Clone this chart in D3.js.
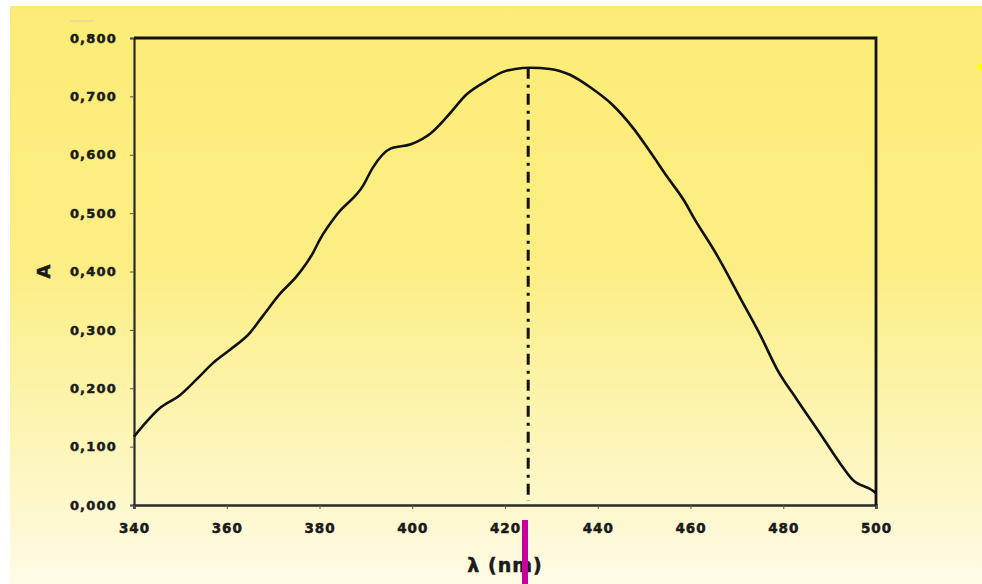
<!DOCTYPE html>
<html><head><meta charset="utf-8">
<script src="https://cdn.jsdelivr.net/npm/d3@7"></script>
<style>
html,body{margin:0;padding:0;background:#fff;}
svg{display:block;}
</style></head>
<body>
<script>
// ---- data ----
const wavelength = [340,345.6,349.9,353.6,357.0,360.7,365.0,367.8,371.5,375.1,378.6,380.1,383.8,389.4,391.5,395.4,399.7,404.0,407.7,411.8,416.1,419.6,422.2,425.4,429.7,434.0,438.3,443.1,447.6,451.3,454.9,458.8,460.5,465.7,470.7,475.0,478.7,483.0,487.9,492.2,495.0,499.4,500];
const absorbance = [0.117,0.166,0.188,0.216,0.243,0.266,0.295,0.324,0.362,0.392,0.432,0.455,0.498,0.547,0.578,0.611,0.618,0.637,0.667,0.704,0.727,0.742,0.747,0.749,0.747,0.737,0.716,0.686,0.646,0.605,0.563,0.519,0.495,0.428,0.355,0.292,0.232,0.180,0.123,0.072,0.043,0.024,0.020];
const xTicks = [340,360,380,400,420,440,460,480,500];
const yTicks = [0,0.1,0.2,0.3,0.4,0.5,0.6,0.7,0.8];
const lambdaMax = 425;
const peakA = 0.749;
const xTitle = "λ (nm)";
const yTitle = "A";

// ---- layout ----
const W = 982, H = 584;
const m = {left:134, right:W-876, top:38, bottom:H-505};

const svg = d3.select("body").append("svg").attr("width",W).attr("height",H);
const defs = svg.append("defs");
const grad = defs.append("linearGradient").attr("id","bg").attr("x1",0).attr("y1",0).attr("x2",0).attr("y2",1);
grad.append("stop").attr("offset","0%").attr("stop-color","#fcec77");
grad.append("stop").attr("offset","45%").attr("stop-color","#fcee84");
grad.append("stop").attr("offset","80%").attr("stop-color","#fdf6c0");
grad.append("stop").attr("offset","100%").attr("stop-color","#fffbe6");

svg.append("rect").attr("x",10).attr("y",6).attr("width",W-10).attr("height",H-6).attr("fill","url(#bg)");
svg.append("rect").attr("x",70).attr("y",20).attr("width",24).attr("height",2).attr("fill","#eadf98");
svg.append("rect").attr("x",978).attr("y",63).attr("width",4).attr("height",6).attr("fill","#ffff00");

const x = d3.scaleLinear().domain([340,500]).range([m.left, W-m.right]);
const y = d3.scaleLinear().domain([0,0.8]).range([H-m.bottom, m.top]);

const fmtY = v => d3.format(".3f")(v).replace(".", ",");
const font = "'DejaVu Sans', sans-serif";

const yAxis = svg.append("g").attr("transform",`translate(${m.left},0)`)
  .call(d3.axisLeft(y).tickValues(yTicks).tickFormat(fmtY).tickSize(4).tickPadding(13));
yAxis.select(".domain").attr("stroke","#2a2a2a").attr("stroke-width",2.2);
yAxis.selectAll(".tick line").attr("stroke","#555").attr("stroke-width",1);
yAxis.selectAll(".tick text").attr("font-family",font).attr("font-weight","bold")
  .attr("font-size","13px").attr("letter-spacing","1.2px").attr("fill","#1a1a1a")
  .attr("stroke","#1a1a1a").attr("stroke-width",0.5);

const xAxis = svg.append("g").attr("transform",`translate(0,${H-m.bottom})`)
  .call(d3.axisBottom(x).tickValues(xTicks).tickFormat(d3.format("d")).tickSize(4).tickPadding(14));
xAxis.select(".domain").attr("stroke","#2a2a2a").attr("stroke-width",2.6);
xAxis.selectAll(".tick line").attr("stroke","#555").attr("stroke-width",1);
xAxis.selectAll(".tick text").attr("font-family",font).attr("font-weight","bold")
  .attr("font-size","13.5px").attr("letter-spacing","1px").attr("fill","#1a1a1a")
  .attr("stroke","#1a1a1a").attr("stroke-width",0.5);

// top and right frame
svg.append("path")
  .attr("d", `M${x(340)},${y(0.8)}H${x(500)}V${y(0)}`)
  .attr("fill","none").attr("stroke","#111").attr("stroke-width",2.8);

// peak line
svg.append("line")
  .attr("x1",x(lambdaMax)).attr("x2",x(lambdaMax))
  .attr("y1",y(peakA)).attr("y2",y(0)-4)
  .attr("stroke","#111").attr("stroke-width",3)
  .attr("stroke-dasharray","11 6 3 6");

// curve
const line = d3.line().x((d,i)=>x(wavelength[i])).y((d,i)=>y(absorbance[i])).curve(d3.curveMonotoneX);
svg.append("path").datum(absorbance).attr("d",line)
  .attr("fill","none").attr("stroke","#111").attr("stroke-width",2.6).attr("stroke-linejoin","round");

// axis titles
svg.append("text").attr("transform",`translate(50,${y(0.4)}) rotate(-90)`)
  .attr("text-anchor","middle").attr("font-family",font).attr("font-weight","bold")
  .attr("font-size","18px").attr("fill","#1a1a1a").attr("stroke","#1a1a1a").attr("stroke-width",0.5).text(yTitle);
svg.append("text").attr("x",(x(340)+x(500))/2).attr("y",572)
  .attr("text-anchor","middle").attr("font-family",font).attr("font-weight","bold")
  .attr("font-size","19px").attr("letter-spacing","1px").attr("fill","#1a1a1a")
  .attr("stroke","#1a1a1a").attr("stroke-width",0.5).text(xTitle);

// magenta marker bar
svg.append("rect").attr("x",522).attr("y",520).attr("width",6).attr("height",H-520).attr("fill","#c8009c");
</script>
</body></html>
